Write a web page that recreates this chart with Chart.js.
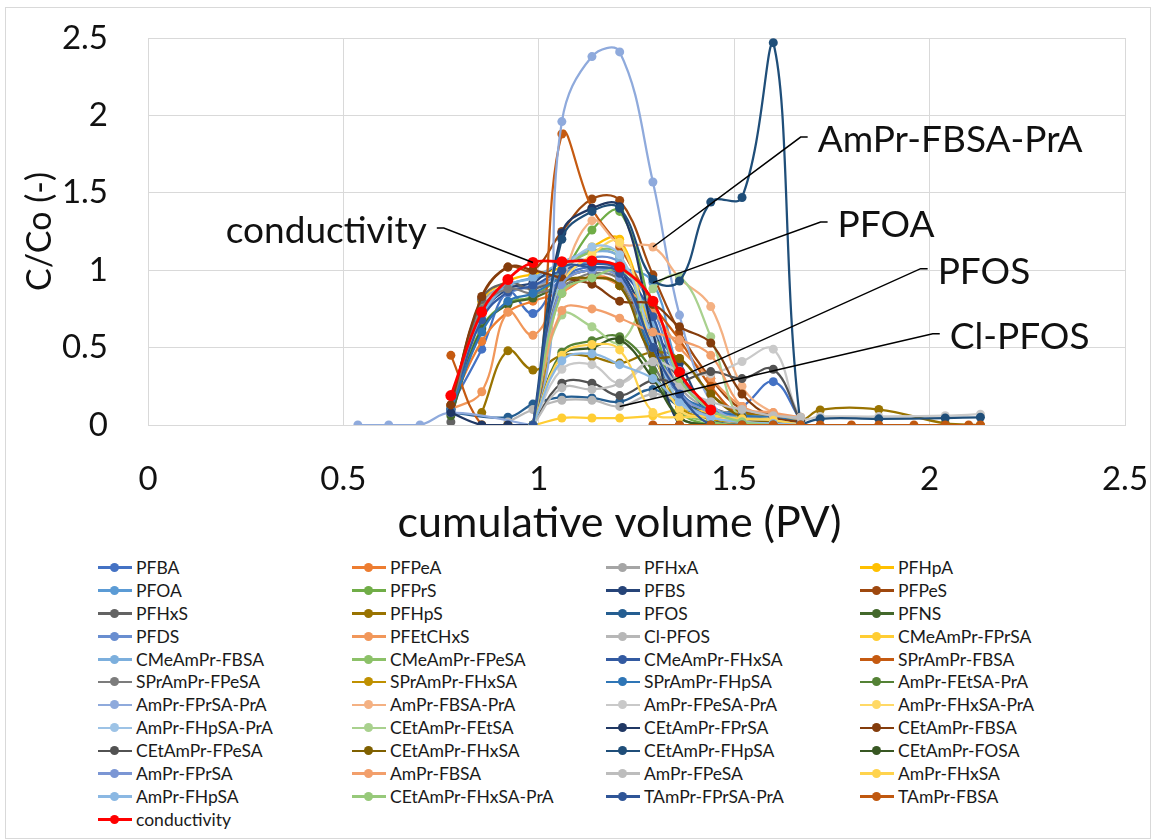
<!DOCTYPE html>
<html>
<head>
<meta charset="utf-8">
<title>Breakthrough curves</title>
<script src="https://cdn.jsdelivr.net/npm/chart.js@4.4.1/dist/chart.umd.min.js"></script>
<style>
  body { margin: 0; background: #fff; font-family: Lato, "Open Sans", sans-serif; }
  #frame { position: absolute; left: 5px; top: 7px; width: 1144px; height: 830px; border: 1px solid #d9d9d9; }
  #plot { position: absolute; left: 0; top: 0; }
  #legend { position: absolute; left: 98px; top: 556px; display: grid;
            grid-template-columns: repeat(4, 254px); grid-auto-rows: 22.9px;
            font-size: 17.5px; color: #1a1a1a; }
  .item { display: flex; align-items: center; white-space: nowrap; }
  .swatch { position: relative; width: 34px; height: 10px; margin-right: 4px; flex: none; }
  .swatch i { position: absolute; left: 0; right: 0; top: 4px; height: 2.5px; }
  .swatch b { position: absolute; left: 12px; top: 0.5px; width: 9px; height: 9px; border-radius: 50%; }
</style>
</head>
<body>
<div id="frame"></div>
<canvas id="plot" width="1154" height="552"></canvas>
<div id="legend"></div>
<script>
const _ = null;

// sampling points, cumulative volume (PV)
const pv = [0.537, 0.616, 0.696, 0.775, 0.854, 0.921, 0.985, 1.059, 1.136, 1.207, 1.292, 1.36,
            1.44, 1.52, 1.60, 1.67, 1.72, 1.80, 1.87, 1.96, 2.04, 2.10, 2.13];

// C/Co per compound, aligned with pv (null = not measured)
const pfba        = [_,_,_,0.12,0.49,0.86,0.72,0.95,1.02,0.96,0.55,0.22,0.08,0.12,0.28,0.03];
const pfpea       = [_,_,_,0.13,0.54,0.73,0.80,0.86,0.96,0.90,0.50,0.20,0.10,0.05,0.04,0.02];
const pfhxa       = [_,_,_,0.08,0.78,0.90,0.88,1.00,1.12,1.08,0.62,0.25,0.10,0.06,0.05,0.04];
const pfhpa       = [_,_,_,0.12,0.80,0.93,0.975,1.02,1.15,1.20,0.55,0.15,0.05,0.02,0.01,0];
const pfoa        = [_,_,_,0.10,0.75,0.90,0.95,0.98,1.06,1.02,0.92,0.35,0.12,0.06,0.05,0.03];
const pfprs       = [_,_,_,0.10,0.63,0.79,0.83,0.98,1.26,1.38,0.70,0.10,0,0,0,0];
const pfbs        = [_,_,_,0.08,0.71,0.88,0.92,1.05,1.06,1.00,0.60,0.40,0.05,0,0,0];
const pfpes       = [_,_,_,0.13,0.82,1.02,1.00,1.25,1.46,1.45,0.97,0.60,0.30,0.10,0.05,0.02];
const pfhxs       = [_,_,_,0.02,0.81,0.92,0.88,0.95,1.00,0.96,0.55,0.30,0.12,0.06,0.05,0.03];
const pfhps       = [_,_,_,_,0.08,0.48,0.355,0.45,0.44,0.40,0.47,0.43,0.20,0.08,0.06,0.03,0.097,_,0.10,_,0.01,_,0];
const pfos        = [_,_,_,0.08,_,0.05,0.135,0.18,0.175,0.15,0.23,0.12,0.05,0.03,0.02,0.02];
const pfns        = [_,_,_,0.06,0.62,0.78,0.82,0.90,0.95,0.90,0.45,0.20,0.06,0.03,0.02,0.01];
const pfds        = [_,_,_,0.10,0.70,0.85,0.90,0.97,1.08,1.05,0.75,0.30,0.10,0.05,0.03,0.02];
const pfetchxs    = [_,_,_,0.10,0.215,0.73,0.58,0.85,0.955,0.90,0.73,0.50,0.30,0.12,0.06,0.04];
const clPfos      = [_,_,_,_,_,0.02,0.10,0.16,0.16,0.12,0.20,0.15,0.10,0.06,0.05,0.04];
const cmeFPrSA    = [_,_,_,_,0,0,0,0.045,0.045,0.045,0.06,0.10,0.08,0.04,0.05,0.02];
const cmeFBSA     = [_,_,_,0.10,0.70,0.90,0.95,1.05,1.12,1.08,0.65,0.30,0.10,0.04,0.03,0.02];
const cmeFPeSA    = [_,_,_,_,_,_,0,0.96,1.12,1.10,0.50,0.10,0.02,0,0,0];
const cmeFHxSA    = [_,_,_,0.10,0.68,0.86,0.90,1.00,1.04,1.00,0.70,0.20,0.05,0.02,0.01,0];
const sprFBSA     = [_,_,_,0.45,0,0,0,1.88,1.40,1.15,0.78,0.55,0.25,0.05,0,0];
const sprFPeSA    = [_,_,_,0.10,0.75,0.88,0.85,0.90,0.98,0.93,0.40,0.15,0.06,0.04,0.03,0.02];
const sprFHxSA    = [_,_,_,_,_,0,0,0.90,1.00,0.95,0.47,0.12,0.04,0.02,0.01,0];
const sprFHpSA    = [_,_,_,0.10,0.60,0.80,0.85,0.95,1.00,0.98,0.45,0.20,0.10,0.06,0.05,0.02];
const ampFEtSAPrA = [_,_,_,_,_,_,0,0.47,0.545,0.57,0.35,0.05,0,0,0];
const ampFPrSAPrA = [0,0,0,0.08,_,_,0,1.96,2.38,2.41,1.57,0.71,0.15,0.02,0.01,0];
const ampFBSAPrA  = [_,_,_,_,_,_,0,0.90,1.32,1.17,1.15,0.95,0.765,0.25,0.08,0.05];
const ampFPeSAPrA = [_,_,_,_,_,_,0,0.36,0.39,0.27,0.41,0.35,0.33,0.41,0.49,0.05,0.055,_,0.055,_,0.06,_,0.07];
const ampFHxSAPrA = [_,_,_,_,_,_,0,0.90,1.10,1.18,0.50,0.10,0.05,0.03,0.04,0];
const ampFHpSAPrA = [_,_,_,_,_,_,0,0.95,1.15,1.10,0.55,0.15,0.05,0.02,0.01,0];
const cetFEtSA    = [_,_,_,_,_,_,0,0.71,0.635,0.535,0.88,0.96,0.57,0.01,0,0];
const cetFPrSA    = [_,_,_,0.08,0,0,0,1.24,1.40,1.41,0.60,0,0,0,0,0];
const cetFBSA     = [_,_,_,0.13,0.83,1.02,1.00,0.95,0.91,0.80,0.78,0.635,0.53,0.20,0.05,0.02];
const cetFPeSA    = [_,_,_,_,_,_,0,0.27,0.27,0.19,0.29,0.28,0.345,0.30,0.36,0.02];
const cetFHxSA    = [_,_,_,_,_,_,0,0.90,0.95,0.90,0.45,0.43,0.20,0.05,0.02,0];
const cetFHpSA    = [_,_,_,_,_,_,0,1.20,1.38,1.40,0.94,0.93,1.44,1.47,2.47,0,0.04,_,0.04,_,0.045,_,0.05];
const cetFOSA     = [_,_,_,_,_,_,0,0.45,0.50,0.55,0.30,0.05,0,0,0];
const ampFPrSA    = [_,_,_,_,_,_,0,0.90,1.00,0.95,0.50,0.20,0.08,0.04,0.03,0];
const ampFBSA     = [_,_,_,_,_,_,0,0.74,0.75,0.69,0.60,0.55,0.45,0.12,0.08,0.05];
const ampFPeSA    = [_,_,_,_,_,_,0,0.24,0.23,0.27,0.41,0.25,0.15,0.10,0.06,0.05];
const ampFHxSA    = [_,_,_,_,_,_,0,0.45,0.52,0.485,0.08,0.05,0.06,0.04,0.03,0];
const ampFHpSA    = [_,_,_,_,_,_,0,0.415,0.46,0.39,0.30,0.15,0.05,0.02,0.01,0];
const cetFHxSAPrA = [_,_,_,_,_,_,0,0.85,0.95,1.00,0.80,0.30,0.10,0.02,0];
const tamFPrSAPrA = [_,_,_,_,_,_,0,1.00,1.02,0.98,0.50,0.20,0,0,0,0];
const tamFBSA     = [_,_,_,_,_,_,_,_,_,_,0,0,0,0,0,0,0,0,0,0,0,0,0];
const conductivity = [_,_,_,0.19,0.73,0.94,1.05,1.055,1.06,1.02,0.80,0.34,0.097];

const names = ["PFBA", "PFPeA", "PFHxA", "PFHpA", "PFOA", "PFPrS", "PFBS", "PFPeS", "PFHxS", "PFHpS",
  "PFOS", "PFNS", "PFDS", "PFEtCHxS", "Cl-PFOS", "CMeAmPr-FPrSA", "CMeAmPr-FBSA", "CMeAmPr-FPeSA",
  "CMeAmPr-FHxSA", "SPrAmPr-FBSA", "SPrAmPr-FPeSA", "SPrAmPr-FHxSA", "SPrAmPr-FHpSA", "AmPr-FEtSA-PrA",
  "AmPr-FPrSA-PrA", "AmPr-FBSA-PrA", "AmPr-FPeSA-PrA", "AmPr-FHxSA-PrA", "AmPr-FHpSA-PrA",
  "CEtAmPr-FEtSA", "CEtAmPr-FPrSA", "CEtAmPr-FBSA", "CEtAmPr-FPeSA", "CEtAmPr-FHxSA", "CEtAmPr-FHpSA",
  "CEtAmPr-FOSA", "AmPr-FPrSA", "AmPr-FBSA", "AmPr-FPeSA", "AmPr-FHxSA", "AmPr-FHpSA",
  "CEtAmPr-FHxSA-PrA", "TAmPr-FPrSA-PrA", "TAmPr-FBSA", "conductivity"];

const values = [pfba, pfpea, pfhxa, pfhpa, pfoa, pfprs, pfbs, pfpes, pfhxs, pfhps, pfos, pfns, pfds,
  pfetchxs, clPfos, cmeFPrSA, cmeFBSA, cmeFPeSA, cmeFHxSA, sprFBSA, sprFPeSA, sprFHxSA, sprFHpSA,
  ampFEtSAPrA, ampFPrSAPrA, ampFBSAPrA, ampFPeSAPrA, ampFHxSAPrA, ampFHpSAPrA, cetFEtSA, cetFPrSA,
  cetFBSA, cetFPeSA, cetFHxSA, cetFHpSA, cetFOSA, ampFPrSA, ampFBSA, ampFPeSA, ampFHxSA, ampFHpSA,
  cetFHxSAPrA, tamFPrSAPrA, tamFBSA, conductivity];

const lineColors = ["#4472C4", "#ED7D31", "#A5A5A5", "#FFC000", "#5B9BD5", "#70AD47",
  "#264478", "#9E480E", "#636363", "#997300", "#255E91", "#43682B",
  "#698ED0", "#F1975A", "#B7B7B7", "#FFCD33", "#7CAFDD", "#8CC168",
  "#335AA1", "#C55A11", "#7C7C7C", "#BF9000", "#2E75B6", "#548235",
  "#8FAADC", "#F4B183", "#C9C9C9", "#FFD966", "#9DC3E6", "#A9D18E",
  "#203864", "#843C0C", "#525252", "#7F6000", "#1F4E79", "#385723",
  "#7B96D4", "#F29F6B", "#BDBDBD", "#FFD34D", "#8BB8E3", "#97C97A",
  "#2F5597", "#C0580F", "#FF0000"];

const font = "Lato, 'Open Sans', sans-serif";

const datasets = names.map((name, i) => ({
  label: name,
  data: pv.map((x, k) => ({x: x, y: values[i][k]}))
          .filter(p => p.y !== null && p.y !== undefined),
  showLine: true,
  tension: 0.4,
  borderColor: lineColors[i],
  backgroundColor: lineColors[i],
  borderWidth: name === "conductivity" ? 2.75 : 2.25,
  pointRadius: name === "conductivity" ? 5.5 : 4.5,
  pointBorderWidth: 0,
  order: -i
}));

function seriesPoint(name, k) {
  return {x: pv[k], y: values[names.indexOf(name)][k]};
}

// callout labels with leader lines
const callouts = [
  {text: "conductivity",  target: seriesPoint("conductivity", 6),  from: {x: 0.739, y: 1.273}, side: "left"},
  {text: "AmPr-FBSA-PrA", target: seriesPoint("AmPr-FBSA-PrA", 10), from: {x: 1.688, y: 1.86}, side: "right"},
  {text: "PFOA",          target: seriesPoint("PFOA", 10),          from: {x: 1.739, y: 1.311}, side: "right"},
  {text: "PFOS",          target: seriesPoint("PFOS", 10),          from: {x: 1.995, y: 1.01},  side: "right"},
  {text: "Cl-PFOS",       target: seriesPoint("Cl-PFOS", 9),        from: {x: 2.026, y: 0.59},  side: "right"}
];

const calloutPlugin = {
  id: "callouts",
  afterDatasetsDraw(chart) {
    const {ctx, scales: {x, y}} = chart;
    ctx.save();
    ctx.strokeStyle = "#000";
    ctx.lineWidth = 1.5;
    ctx.fillStyle = "#111";
    ctx.font = "37px " + font;
    ctx.textBaseline = "middle";
    callouts.forEach(c => {
      const sx = x.getPixelForValue(c.from.x), sy = y.getPixelForValue(c.from.y);
      const tx = x.getPixelForValue(c.target.x), ty = y.getPixelForValue(c.target.y);
      const dir = c.side === "left" ? 1 : -1;
      ctx.beginPath();
      ctx.moveTo(sx, sy);
      ctx.lineTo(sx + dir * 7, sy);
      ctx.lineTo(tx, ty);
      ctx.stroke();
      ctx.textAlign = c.side === "left" ? "right" : "left";
      ctx.fillText(c.text, sx - dir * 10, sy + 3);
    });
    ctx.restore();
  },
  // x axis title, set a little left of the plot centre
  afterDraw(chart) {
    const {ctx, chartArea} = chart;
    ctx.save();
    ctx.fillStyle = "#111";
    ctx.font = "43px " + font;
    ctx.textAlign = "center";
    ctx.textBaseline = "middle";
    ctx.fillText("cumulative volume (PV)", (chartArea.left + chartArea.right) / 2 - 17, chartArea.bottom + 98);
    ctx.restore();
  }
};

// tick marks are kept invisible; their length spaces the labels off the plot
const gridOpts = len => ({color: "#d9d9d9", drawTicks: true, tickLength: len, tickColor: "rgba(0,0,0,0)"});

new Chart("plot", {
  type: "scatter",
  data: {datasets: datasets},
  options: {
    responsive: false,
    animation: false,
    events: [],
    layout: {padding: {left: 0, top: 38, right: 29, bottom: 0}},
    plugins: {legend: {display: false}, tooltip: {enabled: false}},
    scales: {
      x: {
        type: "linear", min: 0, max: 2.5,
        afterFit(scale) { scale.height = 127; },
        ticks: {stepSize: 0.5, padding: 0, color: "#111", font: {family: font, size: 33},
                callback: v => String(v)},
        grid: gridOpts(35),
        border: {color: "#d9d9d9"}
      },
      y: {
        type: "linear", min: 0, max: 2.5,
        afterFit(scale) { scale.width = 148; },
        ticks: {stepSize: 0.5, padding: 0, color: "#111", font: {family: font, size: 33},
                callback: v => String(v)},
        grid: gridOpts(40),
        border: {color: "#d9d9d9"},
        title: {display: true, text: "C/Co (-)", color: "#111",
                font: {family: font, size: 34}, padding: {top: 20}}
      }
    }
  },
  plugins: [calloutPlugin]
});

// four-column legend below the plot
const legend = document.getElementById("legend");
names.forEach((name, i) => {
  const item = document.createElement("div");
  item.className = "item";
  item.innerHTML = '<span class="swatch"><i style="background:' + lineColors[i] + '"></i><b style="background:' +
    lineColors[i] + '"></b></span><span>' + name + '</span>';
  legend.appendChild(item);
});
</script>
</body>
</html>
